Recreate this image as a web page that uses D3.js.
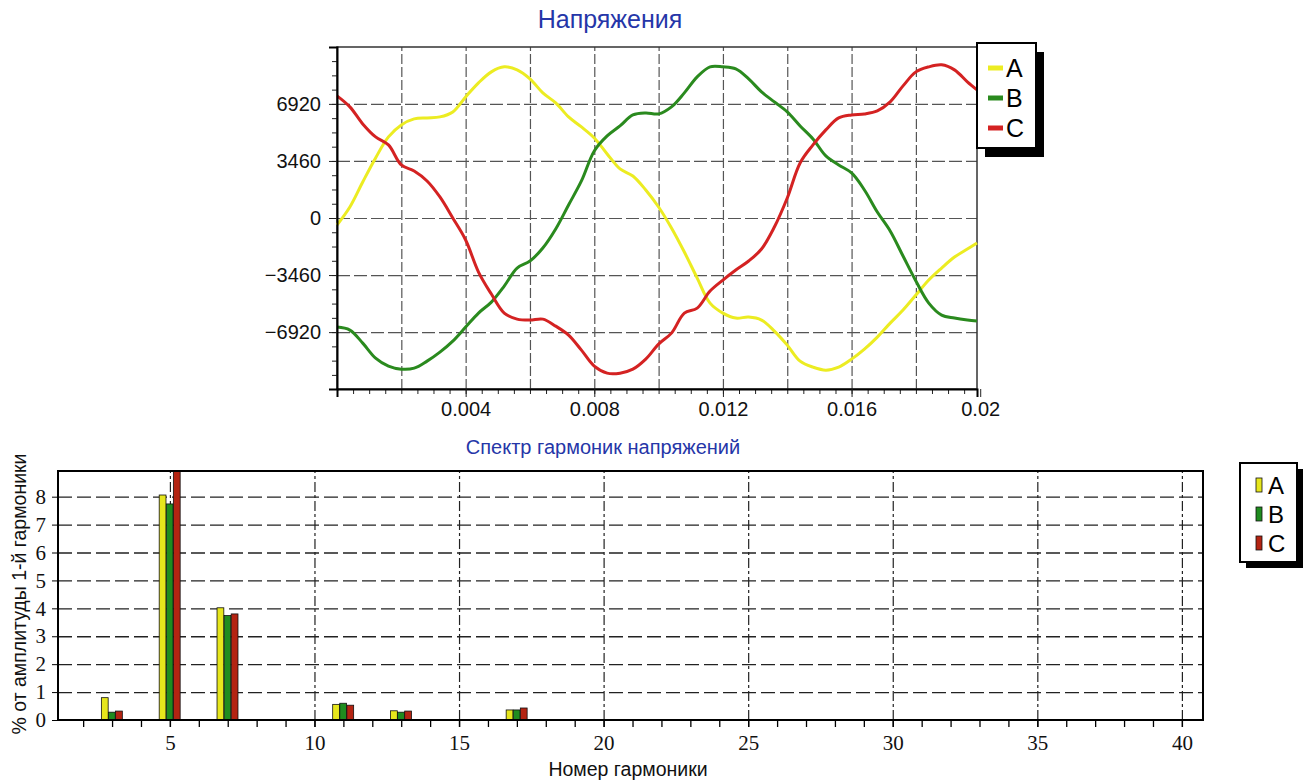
<!DOCTYPE html>
<html>
<head>
<meta charset="utf-8">
<script src="https://cdn.jsdelivr.net/npm/d3@7"></script>
<style>
  body { margin: 0; background: #fff; }
  svg { display: block; }
</style>
</head>
<body>
<svg id="chart" width="1309" height="784"></svg>
<script>
// ---- data: voltage waveforms ----
var timeSec = [0, 0.0004, 0.0008, 0.0012, 0.0016, 0.002, 0.0024, 0.0028, 0.0032, 0.0036,
    0.004, 0.0044, 0.0048, 0.0052, 0.0056, 0.006, 0.0064, 0.0068, 0.0072, 0.0076,
    0.008, 0.0084, 0.0088, 0.0092, 0.0096, 0.01, 0.0104, 0.0108, 0.0112, 0.0116,
    0.012, 0.0124, 0.0128, 0.0132, 0.0136, 0.014, 0.0144, 0.0148, 0.0152, 0.0156,
    0.016, 0.0164, 0.0168, 0.0172, 0.0176, 0.018, 0.0184, 0.0188, 0.0192, 0.0196, 0.0199];

var voltA = [-425, 668, 2185, 3642, 4917, 5645, 6009, 6070, 6131, 6434,
    7345, 8195, 8862, 9166, 8984, 8437, 7588, 6981, 6131, 5524,
    4856, 3885, 2974, 2549, 1700, 668, -607, -2064, -3642, -5160,
    -5767, -6070, -6009, -6191, -6859, -7709, -8680, -9044, -9226, -9044,
    -8559, -7952, -7223, -6374, -5584, -4674, -3763, -3035, -2367, -1882, -1518];

var voltB = [-6616, -6798, -7588, -8498, -8984, -9166, -9105, -8680, -8134, -7466,
    -6616, -5767, -5099, -4128, -3035, -2610, -1821, -668, 789, 2246,
    4067, 4977, 5584, 6252, 6374, 6313, 6738, 7588, 8559, 9166,
    9166, 9044, 8437, 7648, 7041, 6434, 5584, 4795, 3763, 3217,
    2732, 1700, 364, -789, -2307, -3824, -5160, -5888, -6070, -6191, -6252];

var voltC = [7405, 6738, 5706, 4917, 4431, 3217, 2853, 2246, 1275, 0,
    -1335, -3278, -4613, -5767, -6131, -6191, -6131, -6556, -7102, -8012,
    -8984, -9409, -9409, -9166, -8559, -7648, -6981, -5767, -5463, -4431,
    -3763, -3156, -2610, -1882, -546, 1214, 3339, 4431, 5342, 6070,
    6252, 6313, 6495, 7041, 8012, 8862, 9166, 9287, 8984, 8255, 7770];

var voltTicks = [6920, 3460, 0, -3460, -6920];
var timeTicks = [0.004, 0.008, 0.012, 0.016, 0.02];

// ---- data: harmonic spectrum (% of 1st harmonic) ----
var harmonics = [3, 5, 7, 11, 13, 17];
var harmA = [0.80, 8.06, 4.02, 0.56, 0.33, 0.36];
var harmB = [0.28, 7.74, 3.74, 0.60, 0.28, 0.36];
var harmC = [0.32, 9.60, 3.80, 0.53, 0.32, 0.43];
var harmTicks = [5, 10, 15, 20, 25, 30, 35, 40];
var pctTicks = [0, 1, 2, 3, 4, 5, 6, 7, 8];

var phaseNames = ['A', 'B', 'C'];
var lineColors = ['#ecec22', '#2a8a1e', '#d42222'];
var barColors = ['#e6e61c', '#1f8c1f', '#b42412'];

var SANS = '"Liberation Sans", Arial, sans-serif';
var SERIF = '"Liberation Serif", "Times New Roman", serif';

var svg = d3.select('#chart');

// ==========================================================
// Top chart: voltages
// ==========================================================
var x1 = d3.scaleLinear().domain([0, 0.0199]).range([337, 977]);
var y1 = d3.scaleLinear().domain([-10370, 10370]).range([389, 47]);

svg.append('text')
    .style('font-family', SANS)
    .attr('x', 610).attr('y', 28)
    .attr('text-anchor', 'middle')
    .attr('font-size', 25)
    .attr('fill', '#2536a8')
    .text('Напряжения');

var topG = svg.append('g');

// grid
topG.append('g')
    .attr('transform', 'translate(0,389)')
    .call(d3.axisBottom(x1).tickValues([0.002, 0.004, 0.006, 0.008, 0.01, 0.012, 0.014, 0.016, 0.018])
        .tickSize(-342).tickFormat(''))
    .call(function (g) {
        g.select('.domain').remove();
        g.selectAll('line').attr('stroke', '#555').attr('stroke-width', 1.2).attr('stroke-dasharray', '10,3');
    });
topG.append('g')
    .attr('transform', 'translate(337,0)')
    .call(d3.axisLeft(y1).tickValues(voltTicks).tickSize(-640).tickFormat(''))
    .call(function (g) {
        g.select('.domain').remove();
        g.selectAll('line').attr('stroke', '#555').attr('stroke-width', 1.2).attr('stroke-dasharray', '13,4');
    });

// frame
topG.append('rect')
    .attr('x', 337).attr('y', 47).attr('width', 640).attr('height', 342)
    .attr('fill', 'none').attr('stroke', '#333').attr('stroke-width', 1.5);

// lines
var line1 = d3.line()
    .x(function (d, i) { return x1(timeSec[i]); })
    .y(function (d) { return y1(d); })
    .curve(d3.curveCatmullRom.alpha(0.5));
[voltA, voltB, voltC].forEach(function (s, k) {
    topG.append('path')
        .datum(s)
        .attr('d', line1)
        .attr('fill', 'none')
        .attr('stroke', lineColors[k])
        .attr('stroke-width', 3)
        .attr('stroke-linejoin', 'round');
});

// minor ticks
var minorT = d3.range(0, 40).map(function (k) { return k * 0.0005; });
topG.append('g')
    .attr('transform', 'translate(0,389)')
    .call(d3.axisBottom(x1).tickValues(minorT).tickSize(5).tickFormat(''))
    .call(function (g) { g.select('.domain').remove(); g.selectAll('line').attr('stroke', '#222'); });
var minorV = d3.range(-11, 12).map(function (k) { return k * 865; });
topG.append('g')
    .attr('transform', 'translate(337,0)')
    .call(d3.axisLeft(y1).tickValues(minorV).tickSize(5).tickFormat(''))
    .call(function (g) { g.select('.domain').remove(); g.selectAll('line').attr('stroke', '#222'); });

// major axes
topG.append('g')
    .attr('transform', 'translate(0,389)')
    .call(d3.axisBottom(x1).tickValues(timeTicks).tickSize(8).tickPadding(5)
        .tickFormat(function (d) { return String(+d.toFixed(3)); }))
    .call(function (g) {
        g.attr('font-family', SANS).attr('font-size', 20);
        g.select('.domain').attr('stroke', '#000').attr('stroke-width', 2);
        g.selectAll('text').attr('fill', '#111');
        g.selectAll('line').attr('stroke', '#222');
    });
topG.append('g')
    .attr('transform', 'translate(337,0)')
    .call(d3.axisLeft(y1).tickValues(voltTicks).tickSize(8).tickPadding(8).tickFormat(d3.format('d')))
    .call(function (g) {
        g.attr('font-family', SANS).attr('font-size', 20);
        g.select('.domain').attr('stroke', '#000').attr('stroke-width', 2);
        g.selectAll('text').attr('fill', '#111');
        g.selectAll('line').attr('stroke', '#222');
    });

// legend
var leg1 = svg.append('g').style('font-family', SANS);
leg1.append('rect').attr('x', 985).attr('y', 52).attr('width', 59).attr('height', 105).attr('fill', '#000');
leg1.append('rect').attr('x', 977).attr('y', 43).attr('width', 59).attr('height', 105)
    .attr('fill', '#fff').attr('stroke', '#000').attr('stroke-width', 2);
phaseNames.forEach(function (n, k) {
    var cy = 68 + k * 30;
    leg1.append('line').attr('x1', 988).attr('x2', 1003).attr('y1', cy).attr('y2', cy)
        .attr('stroke', lineColors[k]).attr('stroke-width', 5);
    leg1.append('text').attr('x', 1006).attr('y', cy + 9)
        .attr('font-size', 25).attr('fill', '#000').text(n);
});

// ==========================================================
// Bottom chart: harmonic spectrum
// ==========================================================
var x2 = d3.scaleLinear().domain([1.13, 40.73]).range([58, 1203]);
var y2 = d3.scaleLinear().domain([0, 8.92]).range([720, 471]);

svg.append('text')
    .style('font-family', SANS)
    .attr('x', 603).attr('y', 454)
    .attr('text-anchor', 'middle')
    .attr('font-size', 20)
    .attr('fill', '#2536a8')
    .text('Спектр гармоник напряжений');

var botG = svg.append('g');

botG.append('defs').append('clipPath').attr('id', 'plot2')
    .append('rect').attr('x', 58).attr('y', 471).attr('width', 1145).attr('height', 249);

botG.append('g')
    .attr('transform', 'translate(58,0)')
    .call(d3.axisLeft(y2).tickValues([1, 2, 3, 4, 5, 6, 7, 8]).tickSize(-1145).tickFormat(''))
    .call(function (g) {
        g.select('.domain').remove();
        g.selectAll('line').attr('stroke', '#222').attr('stroke-width', 1.3).attr('stroke-dasharray', '14,5');
    });
botG.append('g')
    .attr('transform', 'translate(0,720)')
    .call(d3.axisBottom(x2).tickValues(harmTicks).tickSize(-249).tickFormat(''))
    .call(function (g) {
        g.select('.domain').remove();
        g.selectAll('line').attr('stroke', '#222').attr('stroke-width', 1.2).attr('stroke-dasharray', '10,3,3,3');
    });

// bars
var series = [harmA, harmB, harmC];
var barsG = botG.append('g').attr('clip-path', 'url(#plot2)');
series.forEach(function (s, k) {
    barsG.selectAll('.bar' + k)
        .data(s)
        .enter()
        .append('rect')
        .attr('class', 'bar' + k)
        .attr('x', function (d, i) { return x2(harmonics[i] - 0.37 + k * 0.245); })
        .attr('width', function (d, i) { return x2(harmonics[i] + 0.235) - x2(harmonics[i]); })
        .attr('y', function (d) { return y2(d); })
        .attr('height', function (d) { return y2(0) - y2(d); })
        .attr('fill', barColors[k])
        .attr('stroke', '#111')
        .attr('stroke-width', 0.8);
});

// frame
botG.append('rect')
    .attr('x', 58).attr('y', 471).attr('width', 1145).attr('height', 249)
    .attr('fill', 'none').attr('stroke', '#000').attr('stroke-width', 2);

// axes
botG.append('g')
    .attr('transform', 'translate(0,720)')
    .call(d3.axisBottom(x2).tickValues(d3.range(2, 41)).tickSize(7).tickFormat(''))
    .call(function (g) { g.select('.domain').remove(); g.selectAll('line').attr('stroke', '#000').attr('stroke-width', 1.3); });
botG.append('g')
    .attr('transform', 'translate(0,720)')
    .call(d3.axisBottom(x2).tickValues(harmTicks).tickSize(7).tickPadding(8))
    .call(function (g) {
        g.attr('font-family', SERIF).attr('font-size', 21);
        g.select('.domain').remove();
        g.selectAll('line').attr('stroke', '#000').attr('stroke-width', 1.3);
        g.selectAll('text').attr('fill', '#111');
    });
botG.append('g')
    .attr('transform', 'translate(58,0)')
    .call(d3.axisLeft(y2).tickValues(pctTicks).tickSize(6).tickPadding(6))
    .call(function (g) {
        g.attr('font-family', SERIF).attr('font-size', 21);
        g.select('.domain').remove();
        g.selectAll('line').attr('stroke', '#000');
        g.selectAll('text').attr('fill', '#111');
    });

svg.append('text')
    .style('font-family', SANS)
    .attr('x', 628).attr('y', 776)
    .attr('text-anchor', 'middle')
    .attr('font-size', 19.5)
    .attr('fill', '#111')
    .text('Номер гармоники');
svg.append('text')
    .style('font-family', SANS)
    .attr('transform', 'translate(26,594) rotate(-90)')
    .attr('text-anchor', 'middle')
    .attr('font-size', 19.5)
    .attr('fill', '#111')
    .text('% от амплитуды 1-й гармоники');

// legend
var leg2 = svg.append('g').style('font-family', SANS);
leg2.append('rect').attr('x', 1246).attr('y', 469).attr('width', 57).attr('height', 99).attr('fill', '#000');
leg2.append('rect').attr('x', 1240).attr('y', 463).attr('width', 57).attr('height', 99)
    .attr('fill', '#fff').attr('stroke', '#000').attr('stroke-width', 2);
phaseNames.forEach(function (n, k) {
    var cy = 485 + k * 29;
    leg2.append('rect').attr('x', 1256).attr('y', cy - 7).attr('width', 6).attr('height', 14)
        .attr('fill', barColors[k]).attr('stroke', '#111').attr('stroke-width', 0.8);
    leg2.append('text').attr('x', 1268).attr('y', cy + 9)
        .attr('font-size', 24).attr('fill', '#000').text(n);
});
</script>
</body>
</html>
